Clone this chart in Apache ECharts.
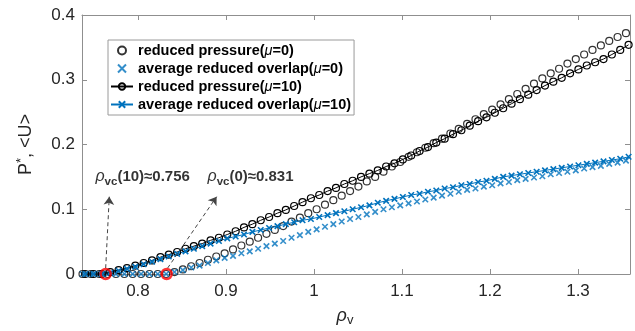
<!DOCTYPE html>
<html><head><meta charset="utf-8">
<script src="https://cdn.jsdelivr.net/npm/echarts@6/dist/echarts.min.js"></script>
<style>html,body{margin:0;padding:0;background:#fff}#c{width:635px;height:331px}</style>
</head><body><div id="c"></div>
<script>
// ---- data ----
const rho0 = [0.737,0.7465,0.756,0.7655,0.775,0.7845,0.794,0.8035,0.813,0.8225,0.832,0.8415,0.851,0.8605,0.870,0.8795,0.889,0.8985,0.908,0.9175,0.927,0.9365,0.946,0.9555,0.965,0.9745,0.984,0.9935,1.003,1.0125,1.022,1.0315,1.041,1.0505,1.060,1.0695,1.079,1.0885,1.098,1.1075,1.117,1.1265,1.136,1.1455,1.155,1.1645,1.174,1.1835,1.193,1.2025,1.212,1.2215,1.231,1.2405,1.250,1.2595,1.269,1.2785,1.288,1.2975,1.307,1.3165,1.326,1.3355,1.345,1.3545];
const P0 = [0,0,0,0,0,0,0,0,0,0,0,0.003,0.007,0.012,0.017,0.022,0.027,0.032,0.038,0.044,0.050,0.056,0.062,0.068,0.074,0.081,0.087,0.094,0.100,0.107,0.114,0.121,0.128,0.135,0.143,0.150,0.158,0.166,0.173,0.181,0.188,0.195,0.202,0.209,0.217,0.224,0.232,0.239,0.247,0.254,0.262,0.270,0.278,0.286,0.294,0.302,0.310,0.317,0.325,0.332,0.339,0.346,0.353,0.360,0.366,0.372];
const U0 = [0,0,0,0,0,0,0,0,0,0,0,0.003,0.006,0.010,0.013,0.017,0.021,0.025,0.028,0.032,0.035,0.039,0.043,0.047,0.051,0.056,0.060,0.065,0.069,0.073,0.077,0.081,0.085,0.088,0.092,0.096,0.100,0.103,0.106,0.109,0.112,0.115,0.118,0.121,0.124,0.127,0.130,0.132,0.135,0.137,0.140,0.142,0.145,0.147,0.149,0.151,0.154,0.156,0.158,0.160,0.163,0.165,0.167,0.170,0.172,0.175];
const rho10 = [0.740,0.7495,0.759,0.7685,0.778,0.7875,0.797,0.8065,0.816,0.8255,0.835,0.8445,0.854,0.8635,0.873,0.8825,0.892,0.9015,0.911,0.9205,0.930,0.9395,0.949,0.9585,0.968,0.9775,0.987,0.9965,1.006,1.0155,1.025,1.0345,1.044,1.0535,1.063,1.0725,1.082,1.0915,1.101,1.1105,1.120,1.1295,1.139,1.1485,1.158,1.1675,1.177,1.1865,1.196,1.2055,1.215,1.2245,1.234,1.2435,1.253,1.2625,1.272,1.2815,1.291,1.3005,1.310,1.3195,1.329,1.3385,1.348,1.3575];
const P10 = [0,0,0,0.003,0.006,0.009,0.013,0.017,0.021,0.026,0.030,0.034,0.039,0.043,0.047,0.052,0.056,0.061,0.066,0.072,0.077,0.083,0.088,0.094,0.099,0.105,0.111,0.117,0.122,0.128,0.133,0.139,0.144,0.150,0.155,0.160,0.166,0.171,0.177,0.183,0.190,0.196,0.203,0.209,0.216,0.222,0.229,0.236,0.242,0.249,0.256,0.263,0.270,0.277,0.284,0.291,0.297,0.303,0.310,0.316,0.322,0.327,0.332,0.339,0.346,0.354];
const U10 = [0,0,0,0.002,0.005,0.008,0.011,0.015,0.019,0.023,0.027,0.031,0.035,0.039,0.043,0.047,0.051,0.055,0.058,0.061,0.065,0.068,0.071,0.074,0.077,0.080,0.083,0.085,0.088,0.091,0.094,0.097,0.100,0.103,0.106,0.110,0.113,0.116,0.119,0.122,0.124,0.127,0.129,0.132,0.134,0.137,0.139,0.142,0.144,0.147,0.150,0.152,0.154,0.156,0.158,0.160,0.162,0.164,0.166,0.168,0.170,0.172,0.174,0.176,0.178,0.181];
const seriesNames = ['reduced pressure(μ=0)','average reduced overlap(μ=0)','reduced pressure(μ=10)','average reduced overlap(μ=10)'];
const xTicks = [0.8,0.9,1.0,1.1,1.2,1.3];
const xMin = 0.7364, xMax = 1.3591;
const yMin = 0, yMax = 0.4, yStep = 0.1;
const critRho = [0.7633, 0.8326];
const critVal = [0, 0];
const arrowFrom = [[0.7633,0.009],[0.8336,0.009]];
const arrowTo = [[0.7674,0.1194],[0.8894,0.1194]];
const annoMu = ['10','0'];
const annoRho = ['0.756','0.831'];
const annoPos = [[0.7511,0.15],[0.8784,0.15]];

// ---- chart ----
const FONT = 'Arial, "Liberation Sans", Helvetica, sans-serif';
const AX = '#8f8f8f', TXT = '#262626', BLUE = '#0072BD';
const XMARK = 'path://M0,0L10,10M10,0L0,10';
const pair = (xs, ys) => xs.map((x, i) => [x, ys[i]]);
const hollow = {color:'rgba(0,0,0,0)', borderColor:'#000', borderWidth:1.2};
const cross = {color:BLUE, borderColor:BLUE, borderWidth:1.6};
const chart = echarts.init(document.getElementById('c'), null, {renderer:'canvas'});
const tickStyle = {show:true, inside:true, length:5, lineStyle:{color:AX}};
chart.setOption({
  animation:false,
  backgroundColor:'#fff',
  grid:{left:82, right:5, top:15, bottom:57, outerBoundsMode:'none'},
  legend:{
    data:seriesNames, orient:'vertical', left:108, top:40,
    itemWidth:22, itemHeight:8, itemGap:3,
    padding:[3,3,3,2], borderColor:'#9a9a9a', borderWidth:1, backgroundColor:'#fff',
    selectedMode:false,
    formatter:n => n.replace('μ','{m|μ}'),
    textStyle:{fontFamily:FONT, fontSize:14.5, fontWeight:'bold', color:'#000', lineHeight:15,
      rich:{m:{fontFamily:FONT, fontSize:14.5, fontStyle:'italic', fontWeight:'normal', color:'#000'}}}
  },
  xAxis:[{
    type:'value', min:xMin, max:xMax,
    axisLine:{show:true, onZero:false, lineStyle:{color:AX}},
    axisTick:Object.assign({customValues:xTicks}, tickStyle),
    axisLabel:{customValues:xTicks, formatter:v => String(+(+v).toFixed(1)), fontFamily:FONT, fontSize:17, color:TXT, margin:9},
    splitLine:{show:false},
    name:'{r|ρ}{s|v}', nameLocation:'middle', nameGap:30,
    nameTextStyle:{padding:[0,22,0,0], rich:{
      r:{fontFamily:FONT, fontSize:18, fontStyle:'italic', color:TXT},
      s:{fontFamily:FONT, fontSize:13, color:TXT, padding:[10,0,0,0]}}}
  },{
    type:'value', position:'top', min:xMin, max:xMax,
    axisLine:{show:true, onZero:false, lineStyle:{color:AX}},
    axisTick:Object.assign({customValues:xTicks}, tickStyle),
    axisLabel:{show:false}, splitLine:{show:false}
  }],
  yAxis:[{
    type:'value', min:yMin, max:yMax, interval:yStep,
    axisLine:{show:true, onZero:false, lineStyle:{color:AX}},
    axisTick:tickStyle,
    axisLabel:{formatter:v => String(+(+v).toFixed(1)), fontFamily:FONT, fontSize:17, color:TXT, margin:7},
    splitLine:{show:false},
    name:'{a|P}{sup|*}{a|, <U>}', nameLocation:'middle', nameGap:44,
    nameTextStyle:{rich:{
      a:{fontFamily:FONT, fontSize:18, color:TXT},
      sup:{fontFamily:FONT, fontSize:13, color:TXT, padding:[0,0,10,0]}}}
  },{
    type:'value', position:'right', min:yMin, max:yMax, interval:yStep,
    axisLine:{show:true, onZero:false, lineStyle:{color:AX}},
    axisTick:tickStyle, axisLabel:{show:false}, splitLine:{show:false}
  }],
  series:[
    {name:seriesNames[0], type:'scatter', data:pair(rho0,P0), symbol:'circle', symbolSize:7, itemStyle:hollow, emphasis:{disabled:true}, z:2},
    {name:seriesNames[1], type:'scatter', data:pair(rho0,U0), symbol:XMARK, symbolSize:5.5, itemStyle:cross, emphasis:{disabled:true}, z:2},
    {name:seriesNames[2], type:'line', data:pair(rho10,P10), symbol:'circle', symbolSize:7, showSymbol:true, showAllSymbol:true,
      itemStyle:hollow, lineStyle:{color:'#000', width:1}, emphasis:{disabled:true}, z:3},
    {name:seriesNames[3], type:'line', data:pair(rho10,U10), symbol:XMARK, symbolSize:5.5, showSymbol:true, showAllSymbol:true,
      itemStyle:cross, lineStyle:{color:BLUE, width:1}, emphasis:{disabled:true}, z:3},
    {name:'crit', type:'scatter', data:pair(critRho,critVal), symbol:'circle', symbolSize:10,
      itemStyle:{color:'rgba(0,0,0,0)', borderColor:'#ff0000', borderWidth:2.5}, emphasis:{disabled:true}, z:5,
      markLine:{silent:true, symbol:['none','arrow'], symbolSize:8, animation:false,
        lineStyle:{type:[4,3], color:'#444', width:1}, label:{show:false},
        data:arrowFrom.map((f,i) => [{coord:f},{coord:arrowTo[i]}])}},
    {name:'anno', type:'scatter', data:annoPos, symbolSize:1, itemStyle:{color:'rgba(0,0,0,0)'}, emphasis:{disabled:true}, z:6,
      label:{show:true, position:'right', distance:0,
        formatter:p => `{r|ρ}{s|vc}{t|(${annoMu[p.dataIndex]})≈${annoRho[p.dataIndex]}}`,
        rich:{
          r:{fontFamily:FONT, fontSize:16, fontStyle:'italic', color:'#000'},
          s:{fontFamily:FONT, fontSize:11.5, fontWeight:'bold', color:'#000', padding:[9,0,0,0]},
          t:{fontFamily:FONT, fontSize:15, fontWeight:'bold', color:'#000'}}}}
  ]
});
</script></body></html>
